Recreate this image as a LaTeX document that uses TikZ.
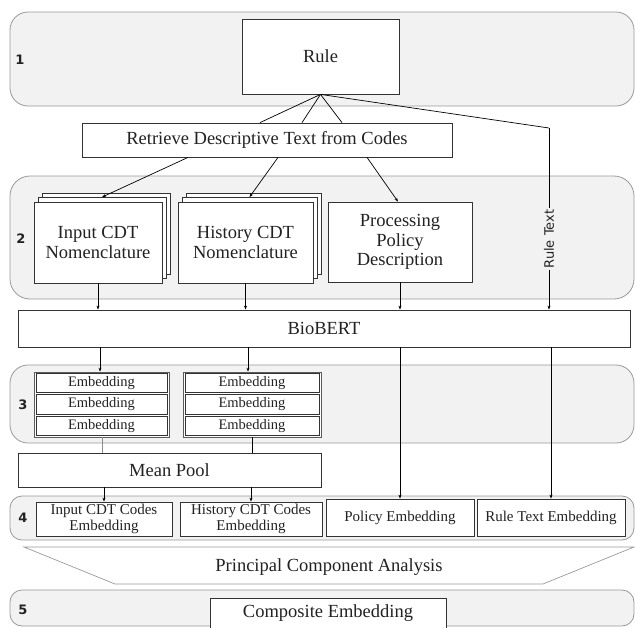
\documentclass[tikz,border=0pt]{standalone}
\usepackage{fontspec}
\setmainfont{Liberation Serif}
\newfontfamily\labfont{DejaVu Sans}
\usetikzlibrary{arrows.meta,calc}
\definecolor{panelfill}{HTML}{F2F2F2}
\definecolor{panelline}{HTML}{9A9A9A}
\definecolor{boxline}{HTML}{333333}
\definecolor{txt}{HTML}{222222}
\begin{document}
\begin{tikzpicture}[x=1pt,y=-1pt,
  panel/.style={draw=panelline,fill=panelfill,line width=0.8pt},
  box/.style={draw=boxline,fill=white,line width=0.8pt,inner sep=0pt,align=center,text=txt,font=\fontsize{18.5}{19.5}\selectfont},
  smallbox/.style={box,font=\fontsize{15}{15.5}\selectfont},
  embrow/.style={draw=boxline,fill=white,line width=0.7pt,inner sep=0pt,minimum height=19.5pt,text=txt,font=\fontsize{14.5}{15}\selectfont},
  emboutline/.style={draw=boxline!80,fill=white,line width=0.7pt,inner sep=0pt},
  conn/.style={draw=black,line width=0.7pt},
  arr/.style={conn,-{Stealth[length=4pt,width=3pt]}},
  numlab/.style={font=\labfont\bfseries\fontsize{13}{13}\selectfont,text=txt,inner sep=0pt}
]
\useasboundingbox (0,0) rectangle (635,627);
\clip (0,0) rectangle (635,627);
\fill[white] (0,0) rectangle (635,627);

% panels
\draw[panel,rounded corners=18pt] (10,12) rectangle (634,106);
\draw[panel,rounded corners=20pt] (10,176) rectangle (634,299);
\draw[panel,rounded corners=18pt] (10,365) rectangle (634,443);
\draw[panel,rounded corners=12pt] (10,496) rectangle (634,540);
\draw[panel,rounded corners=12pt] (10,590) rectangle (634,626);

\node[numlab] (n1) at (20,60) {1};
\node[numlab] (n2) at (21,239) {2};
\node[numlab] (n3) at (23,405) {3};
\node[numlab] (n4) at (23,518) {4};
\node[numlab] (n5) at (23,610) {5};

% section 1
\node[box,minimum width=157pt,minimum height=75pt] (rule) at (320.5,56.5) {Rule};
\node[box,minimum width=370pt,minimum height=34pt] (retr) at (267,140) {Retrieve Descriptive Text from Codes};

% section 2 stacked pages
\node[box,minimum width=128pt,minimum height=81pt] (inpb) at (106,233.5) {};
\node[box,minimum width=128pt,minimum height=81pt] (inpm) at (102,238) {};
\node[box,minimum width=128pt,minimum height=81pt] (inp) at (98,242.5) {Input CDT\\Nomenclature};
\node[box,minimum width=135pt,minimum height=81pt] (histb) at (253.5,233.5) {};
\node[box,minimum width=135pt,minimum height=81pt] (histm) at (249.5,238) {};
\node[box,minimum width=135pt,minimum height=81pt] (hist) at (245.5,242.5) {History CDT\\Nomenclature};
\node[box,minimum width=144pt,minimum height=80pt] (proc) at (400,242) {Processing\\Policy\\Description};

\node[box,minimum width=612pt,minimum height=37pt] (bio) at (324,328.5) {BioBERT};

% section 3 embeddings
\node[emboutline,minimum width=135pt,minimum height=65pt] (embL) at (101.5,404.5) {};
\node[emboutline,minimum width=138pt,minimum height=65pt] (embR) at (252,404.5) {};
\node[embrow,minimum width=131pt] (embL1) at (101.5,383) {Embedding};
\node[embrow,minimum width=131pt] (embL2) at (101.5,404.5) {Embedding};
\node[embrow,minimum width=131pt] (embL3) at (101.5,426) {Embedding};
\node[embrow,minimum width=134pt] (embR1) at (252,383) {Embedding};
\node[embrow,minimum width=134pt] (embR2) at (252,404.5) {Embedding};
\node[embrow,minimum width=134pt] (embR3) at (252,426) {Embedding};

\node[box,minimum width=303pt,minimum height=34pt] (mean) at (169.5,470) {Mean Pool};

% section 4
\node[smallbox,minimum width=136pt,minimum height=34pt] (inpE) at (104,519) {Input CDT Codes\\Embedding};
\node[smallbox,minimum width=142pt,minimum height=34pt] (histE) at (251,519) {History CDT Codes\\Embedding};
\node[smallbox,minimum width=148pt,minimum height=37pt] (polE) at (400,517.5) {Policy Embedding};
\node[smallbox,minimum width=148pt,minimum height=37pt] (ruleE) at (551,517.5) {Rule Text Embedding};

% PCA trapezoid
\coordinate (pcaTL) at (24,547);
\coordinate (pcaTR) at (634,547);
\coordinate (pcaBR) at (543,584);
\coordinate (pcaBL) at (115,584);
\draw[draw=panelline,fill=white,line width=0.7pt] (pcaTL) -- (pcaTR) -- (pcaBR) -- (pcaBL) -- cycle;
\node[text=txt,font=\fontsize{18.5}{19.5}\selectfont,inner sep=0pt] (pca) at (329,567) {Principal Component Analysis};

% section 5
\node[box,minimum width=236pt,minimum height=34pt] (comp) at (328,615) {};
\node[text=txt,font=\fontsize{18.5}{19.5}\selectfont,inner sep=0pt] (compt) at (328,613) {Composite Embedding};

% connectors: rule -> retrieve
\draw[conn] (rule.south) -- ([xshift=-7pt]retr.north);
\draw[conn] (rule.south) -- ([xshift=35pt]retr.north);
\draw[conn] (rule.south) -- ([xshift=75pt]retr.north);
% retrieve -> pages
\draw[arr] ([xshift=-79pt]retr.south) -- (inpm.north);
\draw[arr] ([xshift=11pt]retr.south) -- (histm.north);
\draw[arr] ([xshift=100pt]retr.south) -- ([xshift=-2pt]proc.north);
% rule text line
\coordinate (rbend) at (549,128);
\draw[conn] (rule.south) -- (rbend);
\draw[arr] (rbend) -- (rbend |- bio.north);
\node[rotate=90,fill=panelfill,inner sep=1.5pt,font=\labfont\fontsize{13}{13}\selectfont,text=txt] (rtlab) at (549,239) {Rule Text};

% pages -> BioBERT
\draw[arr] (inp.south) -- (inp.south |- bio.north);
\draw[arr] (hist.south) -- (hist.south |- bio.north);
\draw[arr] (proc.south) -- (proc.south |- bio.north);

% BioBERT -> embeddings
\draw[arr] ([xshift=-1.5pt]embL.north |- bio.south) -- ([xshift=-1.5pt]embL.north);
\draw[arr] ([xshift=-4pt]embR.north |- bio.south) -- ([xshift=-4pt]embR.north);
% BioBERT -> policy / rule text embeddings
\draw[arr] (polE.north |- bio.south) -- (polE.north);
\draw[arr] (ruleE.north |- bio.south) -- (ruleE.north);

% embeddings -> mean pool
\draw[conn,draw=black!45] ([xshift=0.5pt]embL.south) -- ([xshift=0.5pt]embL.south |- mean.north);
\draw[conn] (embR.south) -- (embR.south |- mean.north);
% mean pool -> section 4
\draw[arr] (inpE.north |- mean.south) -- (inpE.north);
\draw[arr] (histE.north |- mean.south) -- (histE.north);
\end{tikzpicture}
\end{document}
